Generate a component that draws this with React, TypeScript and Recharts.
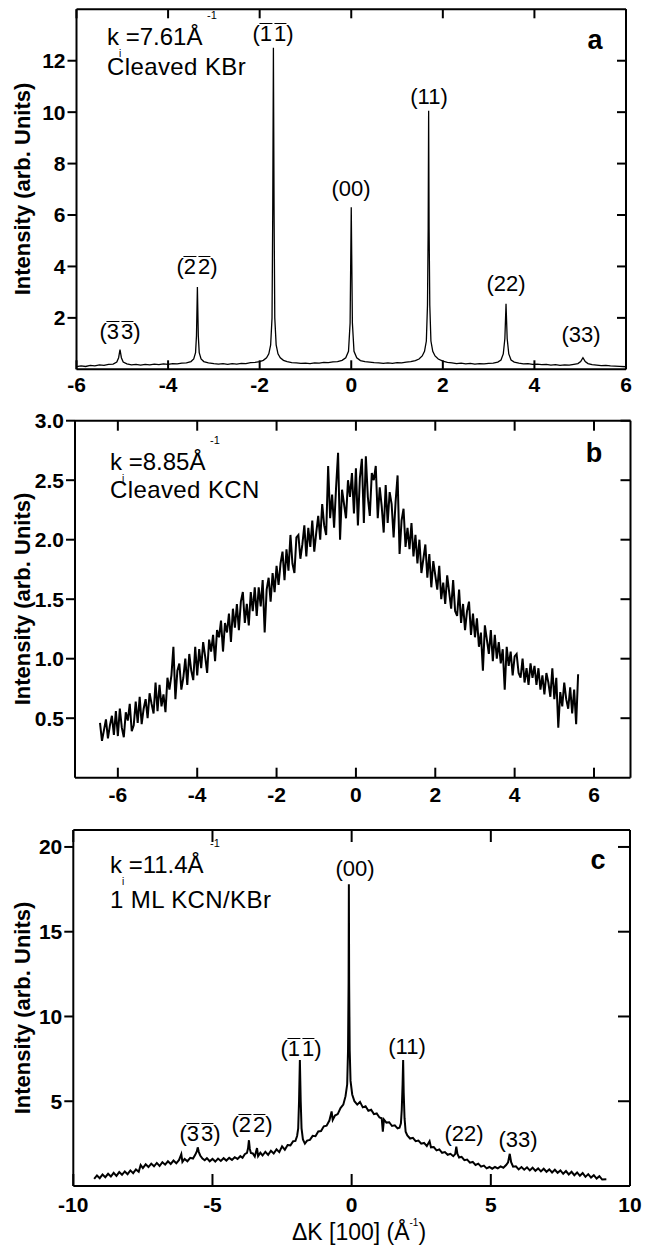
import React from 'react';
import { LineChart, Line, XAxis, YAxis } from 'recharts';

const W = 649;
const FONT = '"Liberation Sans", Arial, Helvetica, sans-serif';

// ---- panel a : cleaved KBr, k = 7.61 1/A ----
const aTicksX = [-6, -4, -2, 0, 2, 4, 6];
const aTicksY = [2, 4, 6, 8, 10, 12];
const aPoints: [number, number][] = [
  [-6.0, 0.1], [-5.9, 0.13], [-5.8, 0.11], [-5.7, 0.15], [-5.6, 0.13], [-5.5, 0.17], [-5.4, 0.15], [-5.3, 0.19],
  [-5.2, 0.2], [-5.12, 0.28], [-5.08, 0.45], [-5.05, 0.77], [-5.02, 0.45], [-4.98, 0.28], [-4.9, 0.21], [-4.8, 0.17],
  [-4.7, 0.19], [-4.6, 0.16], [-4.5, 0.19], [-4.4, 0.17], [-4.3, 0.2], [-4.2, 0.18], [-4.1, 0.21], [-4.0, 0.19],
  [-3.9, 0.22], [-3.8, 0.21], [-3.7, 0.24], [-3.6, 0.25], [-3.5, 0.3], [-3.44, 0.4], [-3.4, 0.65], [-3.38, 1.3],
  [-3.36, 3.2], [-3.34, 1.3], [-3.32, 0.65], [-3.28, 0.4], [-3.22, 0.3], [-3.12, 0.25], [-3.0, 0.22], [-2.9, 0.2],
  [-2.8, 0.22], [-2.7, 0.19], [-2.6, 0.22], [-2.5, 0.2], [-2.4, 0.23], [-2.3, 0.22], [-2.2, 0.26], [-2.1, 0.27],
  [-2.0, 0.3], [-1.92, 0.35], [-1.85, 0.45], [-1.8, 0.6], [-1.76, 0.95], [-1.73, 2.0], [-1.715, 6.0], [-1.7, 12.5],
  [-1.685, 6.0], [-1.67, 2.0], [-1.64, 0.95], [-1.6, 0.6], [-1.55, 0.45], [-1.48, 0.35], [-1.4, 0.3], [-1.3, 0.26],
  [-1.2, 0.25], [-1.1, 0.23], [-1.0, 0.24], [-0.9, 0.22], [-0.8, 0.25], [-0.7, 0.24], [-0.6, 0.27], [-0.5, 0.26],
  [-0.4, 0.29], [-0.3, 0.3], [-0.2, 0.35], [-0.12, 0.45], [-0.06, 0.7], [-0.025, 1.8], [0.0, 6.3], [0.025, 1.8],
  [0.06, 0.7], [0.12, 0.45], [0.2, 0.34], [0.3, 0.3], [0.4, 0.28], [0.5, 0.26], [0.6, 0.25], [0.7, 0.23],
  [0.8, 0.25], [0.9, 0.23], [1.0, 0.26], [1.1, 0.25], [1.2, 0.28], [1.3, 0.3], [1.4, 0.34], [1.48, 0.4],
  [1.55, 0.52], [1.6, 0.7], [1.64, 1.1], [1.665, 2.5], [1.68, 5.5], [1.69, 10.05], [1.7, 5.5], [1.715, 2.5],
  [1.74, 1.1], [1.78, 0.7], [1.83, 0.52], [1.9, 0.4], [2.0, 0.32], [2.1, 0.27], [2.2, 0.25], [2.3, 0.22],
  [2.4, 0.24], [2.5, 0.21], [2.6, 0.23], [2.7, 0.2], [2.8, 0.22], [2.9, 0.21], [3.0, 0.23], [3.1, 0.24],
  [3.2, 0.28], [3.27, 0.36], [3.32, 0.6], [3.355, 1.2], [3.38, 2.55], [3.405, 1.2], [3.44, 0.6], [3.49, 0.36],
  [3.56, 0.28], [3.66, 0.24], [3.76, 0.21], [3.86, 0.22], [3.96, 0.19], [4.06, 0.2], [4.16, 0.18], [4.26, 0.19],
  [4.36, 0.16], [4.46, 0.18], [4.56, 0.15], [4.66, 0.17], [4.76, 0.16], [4.86, 0.19], [4.95, 0.22], [5.01, 0.3],
  [5.06, 0.45], [5.11, 0.3], [5.17, 0.22], [5.26, 0.18], [5.36, 0.16], [5.46, 0.14], [5.56, 0.15], [5.66, 0.13],
  [5.76, 0.12], [5.86, 0.11], [6.0, 0.1],
];

// ---- panel b : cleaved KCN, k = 8.85 1/A (detector step 0.05 from -6.45) ----
const bTicksX = [-6, -4, -2, 0, 2, 4, 6];
const bTicksY = [0.5, 1, 1.5, 2, 2.5, 3];
const bStart = -6.45;
const bStep = 0.05;
const bIntensity = [
  0.46, 0.31, 0.4, 0.49, 0.33, 0.44, 0.52, 0.36, 0.56, 0.35,
  0.58, 0.42, 0.34, 0.55, 0.48, 0.62, 0.39, 0.44, 0.64, 0.46,
  0.68, 0.45, 0.58, 0.66, 0.5, 0.71, 0.62, 0.54, 0.8, 0.56,
  0.78, 0.6, 0.7, 0.55, 0.84, 0.74, 0.86, 1.1, 0.66, 0.9,
  0.96, 0.74, 0.84, 1.0, 0.78, 1.04, 0.9, 0.82, 1.1, 0.86,
  1.08, 0.92, 1.14, 1.02, 0.88, 1.16, 1.06, 1.2, 0.98, 1.24,
  1.18, 1.32, 1.06, 1.3, 1.22, 1.38, 1.14, 1.42, 1.26, 1.46,
  1.24, 1.48, 1.56, 1.3, 1.46, 1.28, 1.56, 1.4, 1.6, 1.36,
  1.6, 1.44, 1.66, 1.22, 1.58, 1.68, 1.48, 1.72, 1.56, 1.78,
  1.62, 1.8, 1.9, 1.66, 1.92, 1.74, 2.04, 1.8, 1.72, 2.02,
  2.04, 1.84, 1.96, 2.12, 1.86, 2.1, 1.94, 2.16, 1.9, 2.06,
  2.2, 2.0, 2.3, 2.12, 2.04, 2.62, 2.18, 2.38, 2.1, 2.44,
  2.73, 2.0, 2.42, 2.3, 2.18, 2.5, 2.36, 2.56, 2.22, 2.6,
  2.12, 2.52, 2.68, 2.14, 2.7, 2.36, 2.2, 2.56, 2.5, 2.62,
  2.18, 2.44, 2.28, 2.06, 2.46, 2.14, 2.4, 2.3, 2.02, 2.32,
  2.54, 1.88, 2.16, 2.26, 1.94, 2.1, 1.92, 2.14, 1.86, 2.04,
  1.8, 2.0, 1.72, 1.84, 1.96, 1.68, 1.88, 1.6, 1.82, 1.7,
  1.58, 1.78, 1.5, 1.64, 1.46, 1.7, 1.56, 1.42, 1.66, 1.4,
  1.36, 1.58, 1.3, 1.46, 1.24, 1.4, 1.48, 1.2, 1.38, 1.18,
  1.34, 1.1, 1.22, 0.9, 1.28, 1.16, 1.04, 1.24, 0.98, 1.2,
  1.0, 1.14, 0.96, 1.08, 0.74, 1.1, 0.94, 1.06, 0.86, 1.02,
  1.04, 0.88, 0.84, 1.0, 0.8, 0.92, 0.78, 0.96, 0.84, 0.94,
  0.78, 0.92, 0.74, 0.86, 0.7, 0.88, 0.8, 0.68, 0.92, 0.66,
  0.84, 0.42, 0.72, 0.6, 0.8, 0.66, 0.58, 0.76, 0.54, 0.74,
  0.45, 0.87,
];

// ---- panel c : 1 ML KCN/KBr, k = 11.4 1/A ----
const cTicksX = [-10, -5, 0, 5, 10];
const cTicksY = [5, 10, 15, 20];
const cPoints: [number, number][] = [
  [-9.25, 0.42], [-9.15, 0.62], [-9.05, 0.46], [-8.95, 0.68], [-8.85, 0.52], [-8.75, 0.72], [-8.65, 0.56], [-8.55, 0.78],
  [-8.45, 0.6], [-8.35, 0.82], [-8.25, 0.66], [-8.15, 0.86], [-8.05, 0.7], [-7.95, 0.92], [-7.85, 0.76], [-7.75, 0.98],
  [-7.65, 0.84], [-7.58, 1.24], [-7.5, 1.06], [-7.4, 1.28], [-7.3, 1.12], [-7.2, 1.32], [-7.1, 1.16], [-7.0, 1.36],
  [-6.9, 1.18], [-6.8, 1.4], [-6.7, 1.26], [-6.6, 1.46], [-6.5, 1.3], [-6.4, 1.5], [-6.3, 1.34], [-6.2, 1.54],
  [-6.12, 1.88], [-6.08, 1.42], [-6.0, 1.6], [-5.9, 1.46], [-5.8, 1.66], [-5.7, 1.62], [-5.62, 1.84], [-5.56, 2.05],
  [-5.53, 2.28], [-5.49, 2.0], [-5.44, 1.8], [-5.36, 1.62], [-5.28, 1.52], [-5.2, 1.64], [-5.1, 1.46], [-5.0, 1.6],
  [-4.9, 1.44], [-4.8, 1.62], [-4.7, 1.48], [-4.6, 1.64], [-4.5, 1.5], [-4.4, 1.66], [-4.3, 1.54], [-4.2, 1.7],
  [-4.1, 1.6], [-4.0, 1.76], [-3.92, 1.66], [-3.84, 1.88], [-3.76, 1.95], [-3.72, 2.25], [-3.69, 2.7], [-3.66, 2.2],
  [-3.62, 1.95], [-3.55, 1.92], [-3.48, 1.74], [-3.4, 2.24], [-3.36, 1.76], [-3.28, 1.96], [-3.2, 1.8], [-3.1, 2.02],
  [-3.0, 1.84], [-2.9, 2.08], [-2.8, 1.92], [-2.7, 2.16], [-2.6, 2.0], [-2.5, 2.34], [-2.4, 2.14], [-2.3, 2.42],
  [-2.2, 2.4], [-2.1, 2.64], [-2.02, 2.66], [-1.96, 2.95], [-1.92, 3.4], [-1.89, 5.0], [-1.86, 7.43], [-1.83, 5.0],
  [-1.8, 3.4], [-1.75, 2.74], [-1.68, 2.5], [-1.6, 2.68], [-1.5, 2.72], [-1.4, 2.96], [-1.3, 2.94], [-1.2, 3.22],
  [-1.1, 3.24], [-1.0, 3.52], [-0.9, 3.56], [-0.8, 3.86], [-0.72, 4.4], [-0.68, 3.9], [-0.6, 4.16], [-0.5, 4.24],
  [-0.4, 4.6], [-0.3, 4.8], [-0.22, 5.3], [-0.16, 6.0], [-0.13, 8.0], [-0.11, 12.0], [-0.1, 17.8], [-0.09, 12.0],
  [-0.07, 8.0], [-0.04, 6.2], [0.02, 5.4], [0.1, 5.0], [0.2, 4.8], [0.3, 4.96], [0.4, 4.64], [0.5, 4.7],
  [0.6, 4.44], [0.7, 4.5], [0.8, 4.24], [0.9, 4.28], [1.0, 4.04], [1.08, 4.0], [1.12, 3.2], [1.16, 3.92],
  [1.25, 3.74], [1.35, 3.76], [1.45, 3.54], [1.55, 3.58], [1.65, 3.4], [1.72, 3.44], [1.77, 3.7], [1.8, 4.5],
  [1.83, 6.0], [1.85, 7.43], [1.87, 5.5], [1.9, 4.0], [1.94, 3.2], [2.0, 2.98], [2.1, 2.8], [2.2, 2.84],
  [2.3, 2.64], [2.4, 2.68], [2.5, 2.5], [2.6, 2.54], [2.7, 2.36], [2.8, 2.64], [2.85, 2.28], [2.95, 2.3],
  [3.05, 2.1], [3.15, 2.16], [3.25, 1.96], [3.35, 2.0], [3.45, 1.84], [3.55, 1.9], [3.65, 1.76], [3.72, 1.88],
  [3.76, 2.32], [3.8, 1.9], [3.86, 1.68], [3.95, 1.72], [4.05, 1.52], [4.15, 1.56], [4.25, 1.38], [4.35, 1.42],
  [4.45, 1.24], [4.55, 1.32], [4.65, 1.14], [4.75, 1.2], [4.85, 1.04], [4.95, 1.12], [5.05, 1.02], [5.15, 1.12],
  [5.25, 1.04], [5.35, 1.16], [5.45, 1.08], [5.55, 1.24], [5.62, 1.4], [5.68, 1.9], [5.73, 1.4], [5.8, 1.14],
  [5.9, 1.16], [6.0, 0.98], [6.1, 1.12], [6.2, 0.96], [6.3, 1.1], [6.4, 0.92], [6.5, 1.08], [6.6, 0.9],
  [6.7, 1.04], [6.8, 0.86], [6.9, 1.02], [7.0, 0.84], [7.1, 0.98], [7.2, 0.8], [7.3, 0.96], [7.4, 0.78],
  [7.5, 0.92], [7.6, 0.72], [7.7, 0.88], [7.8, 0.68], [7.9, 0.84], [8.0, 0.64], [8.1, 0.8], [8.2, 0.6],
  [8.3, 0.76], [8.4, 0.54], [8.5, 0.7], [8.6, 0.5], [8.7, 0.64], [8.8, 0.44], [8.9, 0.58], [9.0, 0.38],
  [9.15, 0.4],
];

const aData = aPoints.map(([x, y]) => ({ x, y }));
const bData = bIntensity.map((y, i) => ({ x: +(bStart + i * bStep).toFixed(2), y }));
const cData = cPoints.map(([x, y]) => ({ x, y }));

type Box = { left: number; right: number; top: number; bottom: number };

type PanelProps = {
  top: number;
  height: number;
  box: Box; // plot frame in panel-local pixels
  xDomain: [number, number];
  xTicks: number[];
  yDomain: [number, number];
  yTicks: number[];
  tickLen: number;
  labelGap: number;
  data: { x: number; y: number }[];
  lineWidth: number;
  yFormat?: (v: number) => string;
};

const axisStroke = { stroke: '#000', strokeWidth: 2 };
const tickStroke = { stroke: '#000', strokeWidth: 2 };
const tickFont = { fill: '#000', fontSize: 21, fontWeight: 700, fontFamily: FONT };

function Panel(p: PanelProps) {
  const { box, tickLen } = p;

  // ticks point into the frame on the bottom, top and right sides
  const bottomTick = (t: any) => (
    <g>
      <line x1={t.x} x2={t.x} y1={box.bottom} y2={box.bottom - tickLen} {...tickStroke} />
      <text x={t.x} y={box.bottom + p.labelGap} dy="0.71em" textAnchor="middle" {...tickFont}>
        {t.payload.value}
      </text>
    </g>
  );
  const topTick = (t: any) => (
    <line x1={t.x} x2={t.x} y1={box.top} y2={box.top + tickLen} {...tickStroke} />
  );
  const rightTick = (t: any) => (
    <line x1={box.right} x2={box.right - tickLen} y1={t.y} y2={t.y} {...tickStroke} />
  );

  return (
    <div style={{ position: 'absolute', left: 0, top: p.top, width: W, height: p.height }}>
      <LineChart
        width={W}
        height={p.height}
        data={p.data}
        margin={{ top: box.top - 1, right: W - box.right - 1, bottom: 0, left: 0 }}
      >
        <XAxis
          xAxisId="b"
          type="number"
          dataKey="x"
          domain={p.xDomain}
          ticks={p.xTicks}
          interval={0}
          allowDataOverflow
          height={p.height - box.bottom}
          axisLine={axisStroke}
          tickLine={false}
          tick={bottomTick}
        />
        <XAxis
          xAxisId="t"
          orientation="top"
          type="number"
          dataKey="x"
          domain={p.xDomain}
          ticks={p.xTicks}
          interval={0}
          allowDataOverflow
          height={1}
          axisLine={axisStroke}
          tickLine={false}
          tick={topTick}
        />
        <YAxis
          yAxisId="l"
          type="number"
          domain={p.yDomain}
          ticks={p.yTicks}
          interval={0}
          allowDataOverflow
          width={box.left}
          tickSize={9}
          tickMargin={2}
          axisLine={axisStroke}
          tickLine={tickStroke}
          tick={tickFont}
          tickFormatter={p.yFormat}
        />
        <YAxis
          yAxisId="r"
          orientation="right"
          type="number"
          domain={p.yDomain}
          ticks={p.yTicks}
          interval={0}
          allowDataOverflow
          width={1}
          axisLine={axisStroke}
          tickLine={false}
          tick={rightTick}
        />
        <Line
          xAxisId="t"
          yAxisId="r"
          type="linear"
          dataKey="y"
          stroke="none"
          dot={false}
          isAnimationActive={false}
        />
        <Line
          xAxisId="b"
          yAxisId="l"
          type="linear"
          dataKey="y"
          stroke="#000"
          strokeWidth={p.lineWidth}
          dot={false}
          isAnimationActive={false}
        />
      </LineChart>
    </div>
  );
}

type TProps = {
  x: number;
  y: number; // baseline
  size?: number;
  bold?: boolean;
  anchor?: 'start' | 'middle';
  spacing?: number;
  children: React.ReactNode;
};

function T({ x, y, size = 22, bold = false, anchor = 'start', spacing = 0, children }: TProps) {
  return (
    <div
      style={{
        position: 'absolute',
        left: x,
        top: y - size * 0.85,
        fontSize: size,
        lineHeight: 1,
        fontWeight: bold ? 700 : 400,
        fontFamily: FONT,
        letterSpacing: spacing,
        whiteSpace: 'nowrap',
        color: '#000',
        transform: anchor === 'middle' ? 'translateX(-50%)' : undefined,
      }}
    >
      {children}
    </div>
  );
}

const Bar = ({ d, gap = 0 }: { d: string; gap?: number }) => (
  <span
    style={{
      display: 'inline-block',
      lineHeight: 0.95,
      borderTop: '1.6px solid #000',
      marginLeft: gap,
    }}
  >
    {d}
  </span>
);

function Peak({ x, y, h, neg }: { x: number; y: number; h: string; neg?: boolean }) {
  return (
    <T x={x} y={y} anchor="middle">
      (
      {neg ? (
        <>
          <Bar d={h[0]} />
          <Bar d={h[1]} gap={2} />
        </>
      ) : (
        h
      )}
      )
    </T>
  );
}

function KLabel({ x, y, value }: { x: number; y: number; value: string }) {
  return (
    <>
      <T x={x} y={y} size={24}>
        {'k =' + value + 'Å'}
      </T>
      <T x={x + 12} y={y + 12} size={10}>i</T>
      <T x={x + 100} y={y - 26} size={11}>-1</T>
    </>
  );
}

function YTitle({ cy }: { cy: number }) {
  return (
    <div
      style={{
        position: 'absolute',
        left: 23,
        top: cy,
        fontSize: 22,
        lineHeight: 1,
        fontWeight: 700,
        fontFamily: FONT,
        whiteSpace: 'nowrap',
        transform: 'translate(-50%, -50%) rotate(-90deg)',
      }}
    >
      Intensity (arb. Units)
    </div>
  );
}

export default function App() {
  return (
    <div style={{ position: 'absolute', left: 0, top: 0, width: W, height: 1247, background: '#fff', overflow: 'hidden' }}>
      <Panel
        top={0}
        height={400}
        box={{ left: 76.5, right: 626, top: 9.3, bottom: 369.3 }}
        xDomain={[-6, 6]}
        xTicks={aTicksX}
        yDomain={[0, 14]}
        yTicks={aTicksY}
        tickLen={9}
        labelGap={8}
        data={aData}
        lineWidth={1.3}
      />
      <Panel
        top={400}
        height={415}
        box={{ left: 75, right: 630.5, top: 20.7, bottom: 377.7 }}
        xDomain={[-7.08, 6.92]}
        xTicks={bTicksX}
        yDomain={[0, 3]}
        yTicks={bTicksY}
        tickLen={10}
        labelGap={9}
        data={bData}
        lineWidth={2}
        yFormat={(v) => v.toFixed(1)}
      />
      <Panel
        top={815}
        height={432}
        box={{ left: 73.3, right: 630, top: 15, bottom: 371 }}
        xDomain={[-10, 10]}
        xTicks={cTicksX}
        yDomain={[0, 21]}
        yTicks={cTicksY}
        tickLen={12}
        labelGap={11}
        data={cData}
        lineWidth={2}
      />

      <YTitle cy={189} />
      <YTitle cy={599} />
      <YTitle cy={1008} />

      {/* panel a */}
      <KLabel x={107} y={45} value="7.61" />
      <T x={107} y={75} size={24} spacing={0.4}>Cleaved KBr</T>
      <T x={595} y={50} size={27} bold anchor="middle">a</T>
      <Peak x={120} y={340} h="33" neg />
      <Peak x={197} y={275} h="22" neg />
      <Peak x={273} y={42} h="11" neg />
      <Peak x={351} y={197} h="00" />
      <Peak x={429} y={105} h="11" />
      <Peak x={506} y={292} h="22" />
      <Peak x={581} y={343} h="33" />

      {/* panel b */}
      <KLabel x={110} y={470} value="8.85" />
      <T x={110} y={498} size={24} spacing={0.4}>Cleaved KCN</T>
      <T x={594} y={463} size={27} bold anchor="middle">b</T>

      {/* panel c */}
      <KLabel x={110} y={873} value="11.4" />
      <T x={110} y={908} size={24} spacing={0.4}>1 ML KCN/KBr</T>
      <T x={598} y={870} size={27} bold anchor="middle">c</T>
      <Peak x={200} y={1142} h="33" neg />
      <Peak x={252} y={1133} h="22" neg />
      <Peak x={301} y={1057} h="11" neg />
      <Peak x={355} y={877} h="00" />
      <Peak x={407} y={1055} h="11" />
      <Peak x={464} y={1142} h="22" />
      <Peak x={518} y={1148} h="33" />

      <T x={359} y={1241} size={23} anchor="middle">
        ΔK [100] (Å<span style={{ fontSize: 10, position: 'relative', top: -14 }}>-1</span>)
      </T>
    </div>
  );
}
